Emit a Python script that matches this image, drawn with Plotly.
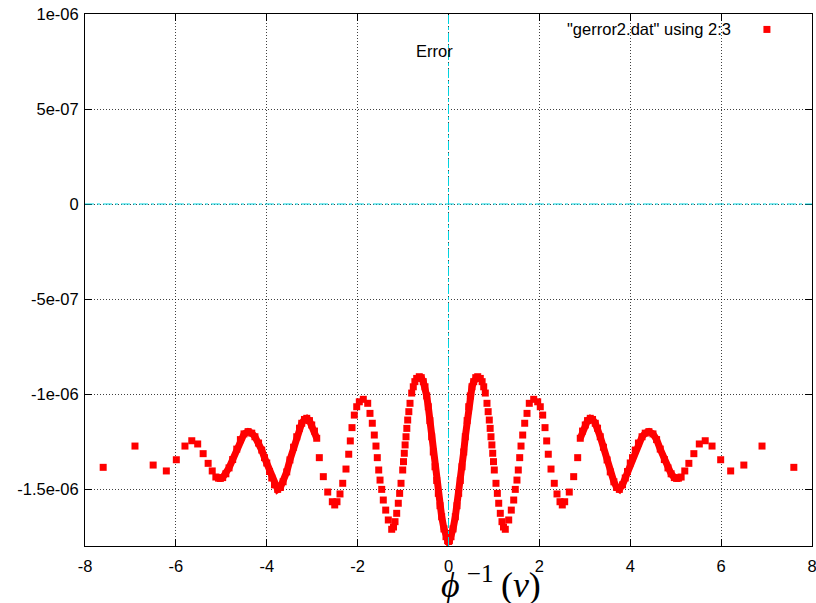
import plotly.graph_objects as go

# x values: phi^-1(v)
PHI_INV = [
    -7.60, -6.90, -6.50, -6.21, -5.99, -5.80, -5.65, -5.52, -5.40, -5.29, -5.20,
    -5.12, -5.06, -5.02, -4.97, -4.90, -4.83, -4.75, -4.66, -4.58, -4.50, -4.41,
    -4.33, -4.26, -4.18, -4.11, -4.05, -4.00, -3.94, -3.89, -3.83, -3.76, -3.70,
    -3.64, -3.56, -3.49, -3.41, -3.34, -3.28, -3.23, -3.17, -3.12, -3.06, -3.01,
    -2.95, -2.90,
    -2.843, -2.755, -2.658, -2.557, -2.504, -2.454, -2.388, -2.328, -2.256, -2.196,
    -2.161, -2.124, -2.073, -2.020, -1.963, -1.875, -1.778, -1.728, -1.677, -1.633,
    -1.596, -1.567, -1.536, -1.507, -1.470, -1.435, -1.382, -1.325, -1.250,
    -1.210, -1.177, -1.140, -1.105, -1.075, -1.045, -1.008, -0.990, -0.973, -0.955,
    -0.935, -0.917, -0.898, -0.873, -0.847, -0.810, -0.775, -0.740, -0.700,
    -0.643, -0.600, -0.555, -0.517, -0.480, -0.445, -0.410, -0.370, -0.335, -0.297,
    -0.260, -0.224, -0.187, -0.150, -0.100, -0.055, -0.020,
    0.000,
    0.020, 0.055, 0.100, 0.150, 0.187, 0.224, 0.260, 0.297, 0.335, 0.370, 0.410,
    0.445, 0.480, 0.517, 0.555, 0.600, 0.643,
    0.700, 0.740, 0.775, 0.810, 0.847, 0.873, 0.898, 0.917, 0.935, 0.955, 0.973,
    0.990, 1.008, 1.045, 1.075, 1.105, 1.140, 1.177, 1.210,
    1.250, 1.325, 1.382, 1.435, 1.470, 1.507, 1.536, 1.567, 1.596, 1.633, 1.677,
    1.728, 1.778, 1.875, 1.963, 2.020, 2.073, 2.124, 2.161, 2.196, 2.256, 2.328,
    2.388, 2.454, 2.504, 2.557, 2.658, 2.755, 2.843,
    2.90, 2.95, 3.01, 3.06, 3.12, 3.17, 3.23, 3.28, 3.34, 3.41, 3.49, 3.56, 3.64,
    3.70, 3.76, 3.83, 3.89, 3.94, 4.00, 4.05, 4.11, 4.18, 4.26, 4.33, 4.41, 4.50,
    4.58, 4.66, 4.75, 4.83, 4.90, 4.97, 5.02, 5.06, 5.12,
    5.20, 5.29, 5.40, 5.52, 5.65, 5.80, 5.99, 6.21, 6.50, 6.90, 7.60,
]

# y values (error), in units of 1e-6
ERROR_E6 = [
    -1.386, -1.274, -1.374, -1.405, -1.346, -1.274, -1.246, -1.263, -1.314, -1.365, -1.405,
    -1.437, -1.443, -1.444, -1.440, -1.420, -1.389, -1.345, -1.290, -1.240, -1.210, -1.198,
    -1.206, -1.225, -1.258, -1.295, -1.335, -1.363, -1.408, -1.442, -1.478, -1.502, -1.492,
    -1.462, -1.410, -1.347, -1.280, -1.225, -1.180, -1.154, -1.134, -1.128, -1.140, -1.163,
    -1.195, -1.233,
    -1.335, -1.435, -1.516, -1.567, -1.584, -1.567, -1.526, -1.470, -1.395, -1.317,
    -1.247, -1.177, -1.111, -1.067, -1.041, -1.028, -1.049, -1.102, -1.154, -1.216,
    -1.274, -1.335, -1.400, -1.453, -1.502, -1.558, -1.611, -1.663, -1.712,
    -1.700, -1.672, -1.628, -1.575, -1.523, -1.470, -1.400, -1.356, -1.312, -1.268,
    -1.225, -1.181, -1.137, -1.093, -1.049, -0.995, -0.962, -0.935, -0.918,
    -0.909, -0.914, -0.935, -0.962, -1.010, -1.067, -1.140, -1.225, -1.305, -1.383,
    -1.455, -1.523, -1.588, -1.646, -1.710, -1.751, -1.772,
    -1.776,
    -1.772, -1.751, -1.710, -1.646, -1.588, -1.523, -1.455, -1.383, -1.305, -1.225, -1.140,
    -1.067, -1.010, -0.962, -0.935, -0.914, -0.909,
    -0.918, -0.935, -0.962, -0.995, -1.049, -1.093, -1.137, -1.181, -1.225, -1.268, -1.312,
    -1.356, -1.400, -1.470, -1.523, -1.575, -1.628, -1.672, -1.700,
    -1.712, -1.663, -1.611, -1.558, -1.502, -1.453, -1.400, -1.335, -1.274, -1.216, -1.154,
    -1.102, -1.049, -1.028, -1.041, -1.067, -1.111, -1.177, -1.247, -1.317, -1.395, -1.470,
    -1.526, -1.567, -1.584, -1.567, -1.516, -1.435, -1.335,
    -1.233, -1.195, -1.163, -1.140, -1.128, -1.134, -1.154, -1.180, -1.225, -1.280, -1.347, -1.410, -1.462,
    -1.492, -1.502, -1.478, -1.442, -1.408, -1.363, -1.335, -1.295, -1.258, -1.225, -1.206, -1.198, -1.210,
    -1.240, -1.290, -1.345, -1.389, -1.420, -1.440, -1.444, -1.443, -1.437,
    -1.405, -1.365, -1.314, -1.263, -1.246, -1.274, -1.346, -1.405, -1.374, -1.274, -1.386,
]

X_TICKS = [-8, -6, -4, -2, 0, 2, 4, 6, 8]
X_TICK_TEXT = ["-8", "-6", "-4", "-2", "0", "2", "4", "6", "8"]
Y_TICKS = [1e-6, 5e-7, 0, -5e-7, -1e-6, -1.5e-6]
Y_TICK_TEXT = ["1e-06", "5e-07", "0", "-5e-07", "-1e-06", "-1.5e-06"]

ys = [v * 1e-6 for v in ERROR_E6]
RED = "#ff0000"

# densely sampled stretches drawn as a thick stroke behind the markers
dx, dy = [], []
prev = None
for x, y in zip(PHI_INV, ys):
    if abs(x) <= 0.645 or 2.89 <= abs(x) <= 5.13:
        if prev is not None and x - prev > 0.3:
            dx.append(None); dy.append(None)
        dx.append(x); dy.append(y)
        prev = x

fig = go.Figure()
fig.add_trace(go.Scatter(x=dx, y=dy, mode="lines", line=dict(color=RED, width=7),
                         hoverinfo="skip", showlegend=False))
fig.add_trace(go.Scatter(x=PHI_INV, y=ys, mode="markers",
                         marker=dict(symbol="square", size=7, color=RED, line=dict(width=0)),
                         name='"gerror2.dat" using 2:3', showlegend=False))

grid = dict(showgrid=True, gridcolor="rgba(0,0,0,0.75)", gridwidth=1, griddash="1px,2px")
fig.update_xaxes(range=[-8, 8], tickvals=X_TICKS, ticktext=X_TICK_TEXT, ticks="inside", ticklen=7,
                 tickcolor="black", showline=True, linecolor="black", linewidth=1, mirror="ticks",
                 zeroline=False, ticklabelstandoff=5, automargin=False,
                 ticklabeloverflow="allow", **grid)
fig.update_yaxes(range=[-1.8e-6, 1e-6], tickvals=Y_TICKS, ticktext=Y_TICK_TEXT, ticks="inside",
                 ticklen=7, tickcolor="black", showline=True, linecolor="black", linewidth=1,
                 mirror="ticks", zeroline=False, ticklabelstandoff=2, automargin=False,
                 ticklabeloverflow="allow", **grid)

cyan = dict(color="#00d4e0", width=1, dash="dashdot")
fig.add_shape(type="line", xref="x", yref="paper", x0=0, x1=0, y0=0, y1=1, line=cyan, layer="above")
fig.add_shape(type="line", xref="paper", yref="y", x0=0, x1=1, y0=0, y1=0, line=cyan, layer="above")

# legend sample (gnuplot style: text then symbol)
fig.add_shape(type="rect", xref="paper", yref="paper", xsizemode="pixel", ysizemode="pixel",
              xanchor=0.938, yanchor=0.971, x0=-3.5, x1=3.5, y0=-3.5, y1=3.5,
              fillcolor=RED, line=dict(width=0))
fig.add_annotation(xref="paper", yref="paper", x=0.891, y=0.971, xanchor="right", yanchor="middle",
                   text='"gerror2.dat" using 2:3', showarrow=False)
fig.add_annotation(xref="paper", yref="paper", x=0.481, y=0.930, xanchor="center", yanchor="middle",
                   text="Error", showarrow=False)
fig.add_annotation(xref="paper", yref="paper", x=0.5585, y=-0.069, xanchor="center", yanchor="middle",
                   text="<i>ϕ</i>\u2009<sup>−1</sup>\u2009(<i>v</i>)", showarrow=False,
                   font=dict(family="Liberation Serif, DejaVu Serif", size=36))

fig.update_layout(width=816, height=603, margin=dict(l=85, r=4, t=14, b=57, autoexpand=False),
                  plot_bgcolor="white", paper_bgcolor="white", showlegend=False,
                  font=dict(family="Liberation Sans, Arial", size=16.5, color="black"))
# remove the default page margin so the figure fills the 816x603 window exactly
fig.write_html("out.html", config={"displayModeBar": False},
               post_script="document.body.style.margin='0';document.body.style.overflow='hidden';")
